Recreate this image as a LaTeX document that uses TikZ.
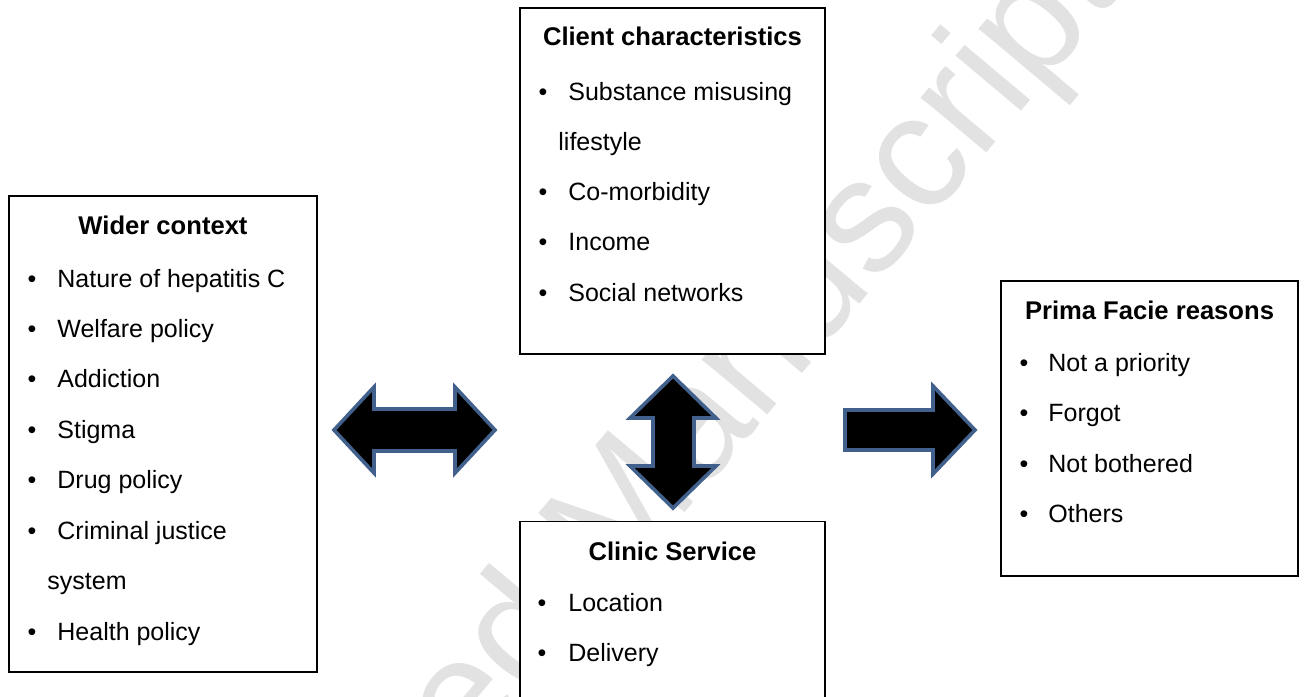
\documentclass[tikz,border=0pt]{standalone}
\usepackage{fontspec}
\setmainfont{Liberation Sans}
\definecolor{arrowblue}{RGB}{65,97,140}
\definecolor{wmgray}{RGB}{226,226,226}
\begin{document}
\begin{tikzpicture}[x=0.5pt,y=-0.5pt,
  box/.style={draw=black, fill=white, line width=0.6pt},
  blockarrow/.style={draw=arrowblue, fill=black, line width=1.8pt, line join=miter},
  title/.style={font=\fontsize{12.8}{15}\selectfont\bfseries, anchor=base, inner sep=0pt},
  item/.style={font=\fontsize{12.5}{15}\selectfont, anchor=base west, inner sep=0pt},
  bul/.style={font=\fontsize{12.5}{15}\selectfont, anchor=base, inner sep=0pt},
  wm/.style={font=\fontsize{81}{82}\selectfont, text=wmgray, anchor=base, inner sep=0pt}]
\clip (0,0) rectangle (1305,696);
\fill[white] (0,0) rectangle (1305,696);
% watermark
\node[wm, rotate=50] (wmark) at (638.6,568) {Accepted Manuscript};

% Wider context box
\path[box] (9,196) rectangle (317,672);
\node[title] (wt) at (163,234) {Wider context};
\node[bul] (wb1) at (32,287) {•};   \node[item] (wi1) at (57,287) {Nature of hepatitis C};
\node[bul] (wb2) at (32,337) {•};   \node[item] (wi2) at (57,337) {Welfare policy};
\node[bul] (wb3) at (32,387.5) {•}; \node[item] (wi3) at (57,387.5) {Addiction};
\node[bul] (wb4) at (32,438) {•};   \node[item] (wi4) at (57,438) {Stigma};
\node[bul] (wb5) at (32,488.5) {•}; \node[item] (wi5) at (57,488.5) {Drug policy};
\node[bul] (wb6) at (32,539) {•};   \node[item] (wi6) at (57,539) {Criminal justice};
\node[item] (wi6b) at (47,589) {system};
\node[bul] (wb7) at (32,640) {•};   \node[item] (wi7) at (57,640) {Health policy};

% Client characteristics box
\path[box] (520,8) rectangle (825,354);
\node[title] (ct) at (672.5,45) {Client characteristics};
\node[bul] (cb1) at (543,100) {•};   \node[item] (ci1) at (568,100) {Substance misusing};
\node[item] (ci1b) at (558,150) {lifestyle};
\node[bul] (cb2) at (543,200) {•};   \node[item] (ci2) at (568,200) {Co-morbidity};
\node[bul] (cb3) at (543,250.5) {•}; \node[item] (ci3) at (568,250.5) {Income};
\node[bul] (cb4) at (543,301.5) {•}; \node[item] (ci4) at (568,301.5) {Social networks};

% Prima Facie reasons box
\path[box] (1001,281) rectangle (1298,576);
\node[title] (pt) at (1149.5,319.5) {Prima Facie reasons};
\node[bul] (pb1) at (1024,371.7) {•}; \node[item] (pi1) at (1048,371.7) {Not a priority};
\node[bul] (pb2) at (1024,421.7) {•}; \node[item] (pi2) at (1048,421.7) {Forgot};
\node[bul] (pb3) at (1024,472.5) {•}; \node[item] (pi3) at (1048,472.5) {Not bothered};
\node[bul] (pb4) at (1024,522) {•};   \node[item] (pi4) at (1048,522) {Others};

% Clinic Service box
\path[box] (520,521.5) rectangle (825,730);
\node[title] (st) at (672.5,560) {Clinic Service};
\node[bul] (sb1) at (542,611.7) {•}; \node[item] (si1) at (568,611.7) {Location};
\node[bul] (sb2) at (542,661.7) {•}; \node[item] (si2) at (568,661.7) {Delivery};

% block arrows
\draw[blockarrow] (334,430) -- (374,387) -- (374,409) -- (455,409) -- (455,387)
  -- (495,430) -- (455,473) -- (455,451) -- (374,451) -- (374,473) -- cycle;
\draw[blockarrow] (673,376) -- (716,418) -- (694,418) -- (694,466) -- (716,466)
  -- (673,508) -- (630,466) -- (653,466) -- (653,418) -- (630,418) -- cycle;
\draw[blockarrow] (845,410) -- (933,410) -- (933,386) -- (975,430) -- (933,474)
  -- (933,450) -- (845,450) -- cycle;
\end{tikzpicture}
\end{document}
